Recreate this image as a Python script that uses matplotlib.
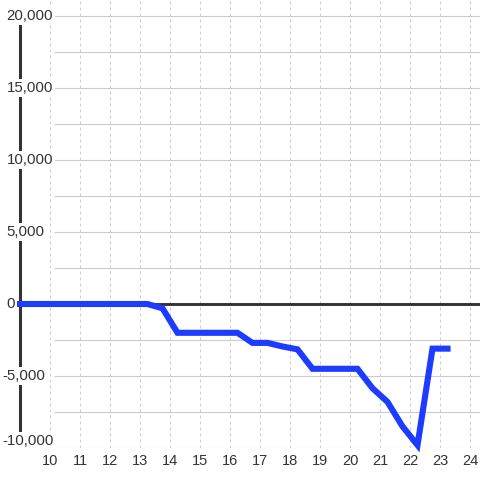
import matplotlib
matplotlib.use("Agg")
import matplotlib.pyplot as plt
import matplotlib.transforms as mtransforms

plt.rcParams["font.family"] = ["Liberation Sans", "DejaVu Sans"]

# cumulative balance over the day (hour of day -> value)
hours = [9.0, 13.25, 13.75, 14.25, 16.25, 16.75, 17.25, 17.75, 18.25,
         18.75, 20.25, 20.75, 21.25, 21.75, 22.25, 22.75, 23.25]
values = [0, 0, -300, -2000, -2000, -2700, -2700, -2950, -3150,
          -4500, -4500, -5850, -6800, -8500, -9800, -3100, -3100]

x_ticks = list(range(10, 25))
y_ticks = [-10000, -5000, 0, 5000, 10000, 15000, 20000]
y_grid = [v * 2500 for v in range(-4, 9)]

TXT = "#333333"
BLUE = "#1e3cff"

fig = plt.figure(figsize=(4.8, 4.8), dpi=100)
ax = fig.add_axes([20 / 480, 32 / 480, 460 / 480, 448 / 480])
ax.set_xlim(9.0, 9.0 + 460 / 30)
ax.set_ylim(-10000, 20000 + 16 / 72 * 5000)

# grid
ax.hlines(y_grid, 10.133, 9.0 + 460 / 30, color="#cccccc", lw=0.8, zorder=1)
ax.set_xticks(x_ticks)
ax.grid(axis="x", ls=(0, (3, 3)), color="#cccccc", lw=0.72, zorder=1)
ax.axhline(0, color=TXT, lw=2.1, zorder=2)

ax.plot(hours, values, color=BLUE, lw=4.4, solid_capstyle="projecting",
        solid_joinstyle="miter", clip_on=False, zorder=4)

for s in ["top", "right", "bottom"]:
    ax.spines[s].set_visible(False)
ax.spines["left"].set_color(TXT)
ax.spines["left"].set_linewidth(2.2)
ax.spines["left"].set_bounds(-10000, 20000)

ax.tick_params(axis="x", length=0, labelsize=10.5, labelcolor=TXT, pad=4)
ax.set_yticks([])

trans = mtransforms.blended_transform_factory(fig.transFigure, ax.transData)
for v in y_ticks:
    xpx = 6.5 if v >= 0 else 2.5
    yv = v + 480 if v == y_ticks[0] else v
    ax.text(xpx / 480, yv, f"{v:,}", transform=trans, ha="left", va="center",
            fontsize=10.8, color=TXT, zorder=5, clip_on=False,
            bbox=dict(boxstyle="square,pad=0.12", fc="white", ec="none"))

fig.savefig("out.png", dpi=100)
